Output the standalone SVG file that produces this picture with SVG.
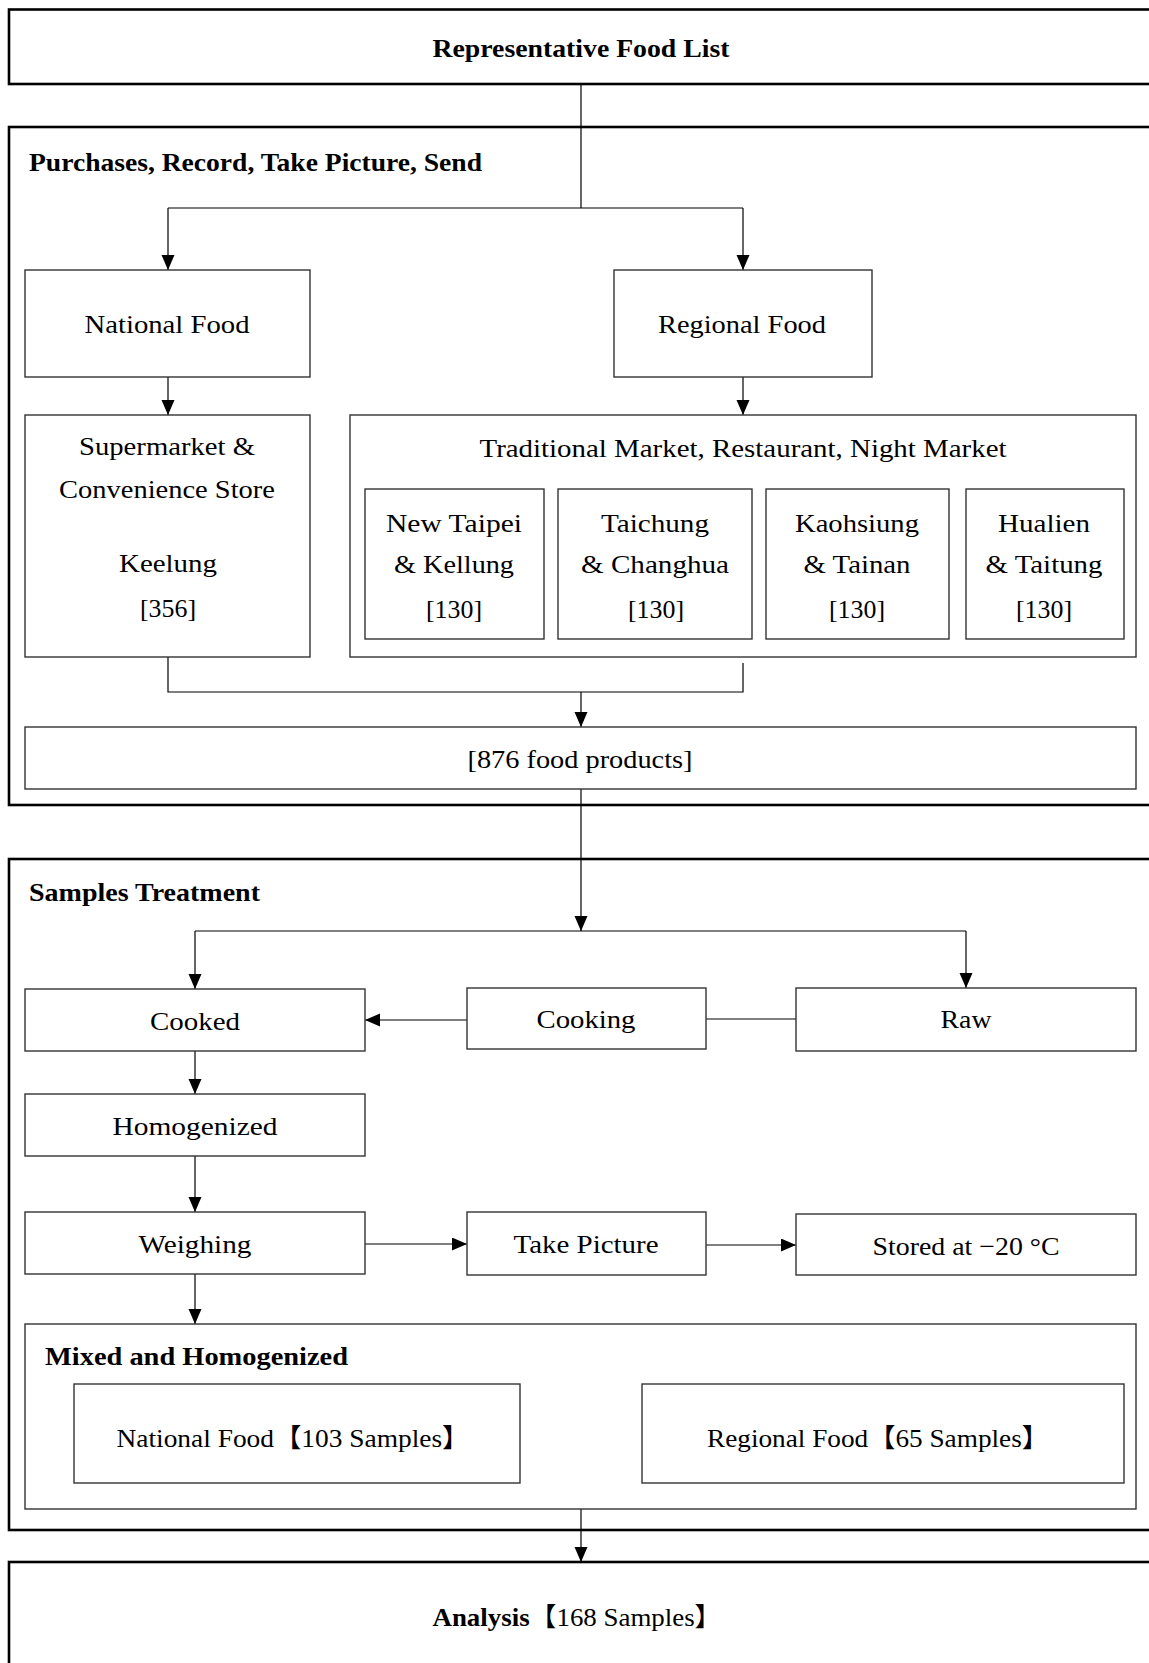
<svg xmlns="http://www.w3.org/2000/svg" width="1149" height="1663" viewBox="0 0 1149 1663">
<style>
.sec{fill:none;stroke:#000;stroke-width:2.6}
.box{fill:#fff;stroke:#333;stroke-width:1.4}
.con{fill:none;stroke:#000;stroke-width:1.2}
text{font-family:"Liberation Serif","Noto Sans CJK SC",serif;font-size:26px;fill:#000}
.c{text-anchor:middle}
.b{font-weight:bold}
</style>
<defs>
<marker id="ah" markerUnits="userSpaceOnUse" markerWidth="16" markerHeight="14" refX="15" refY="6.5" orient="auto">
<path d="M0,0 L15,6.5 L0,13 z" fill="#000"/>
</marker>
</defs>

<g id="sections">
<rect class="sec" x="9" y="9.5" width="1160" height="74.5"/>
<rect class="sec" x="9" y="127" width="1160" height="678"/>
<rect class="sec" x="9" y="859" width="1160" height="671"/>
<rect class="sec" x="9" y="1562" width="1160" height="120"/>
</g>

<g id="connectors">
<path class="con" d="M581,84 V208"/>
<path class="con" d="M168,208 H743"/>
<path class="con" d="M168,208 V270" marker-end="url(#ah)"/>
<path class="con" d="M743,208 V270" marker-end="url(#ah)"/>
<path class="con" d="M168,377 V415" marker-end="url(#ah)"/>
<path class="con" d="M743,377 V415" marker-end="url(#ah)"/>
<path class="con" d="M168,657 V692 H743 V663"/>
<path class="con" d="M581,692 V727" marker-end="url(#ah)"/>
<path class="con" d="M581,789 V931" marker-end="url(#ah)"/>
<path class="con" d="M195,931 H966"/>
<path class="con" d="M195,931 V989" marker-end="url(#ah)"/>
<path class="con" d="M966,931 V988" marker-end="url(#ah)"/>
<path class="con" d="M467,1020 H365" marker-end="url(#ah)"/>
<path class="con" d="M706,1019 H796"/>
<path class="con" d="M195,1051 V1094" marker-end="url(#ah)"/>
<path class="con" d="M195,1156 V1212" marker-end="url(#ah)"/>
<path class="con" d="M365,1244 H467" marker-end="url(#ah)"/>
<path class="con" d="M706,1245 H796" marker-end="url(#ah)"/>
<path class="con" d="M195,1274 V1324" marker-end="url(#ah)"/>
<path class="con" d="M581,1509 V1562" marker-end="url(#ah)"/>
</g>

<g id="representative-food-list">
<text class="c b" x="581" y="57" textLength="297" lengthAdjust="spacingAndGlyphs">Representative Food List</text>
</g>

<g id="purchases-section">
<text class="b" x="29" y="171" textLength="453" lengthAdjust="spacingAndGlyphs">Purchases, Record, Take Picture, Send</text>
</g>

<g id="national-food">
<rect class="box" x="25" y="270" width="285" height="107"/>
<text class="c" x="167" y="333" textLength="165" lengthAdjust="spacingAndGlyphs">National Food</text>
</g>

<g id="regional-food">
<rect class="box" x="614" y="270" width="258" height="107"/>
<text class="c" x="742" y="333" textLength="168" lengthAdjust="spacingAndGlyphs">Regional Food</text>
</g>

<g id="supermarket">
<rect class="box" x="25" y="415" width="285" height="242"/>
<text class="c" x="167" y="455" textLength="176" lengthAdjust="spacingAndGlyphs">Supermarket &amp;</text>
<text class="c" x="167" y="498" textLength="216" lengthAdjust="spacingAndGlyphs">Convenience Store</text>
<text class="c" x="168" y="572" textLength="98" lengthAdjust="spacingAndGlyphs">Keelung</text>
<text class="c" x="168" y="617" textLength="56" lengthAdjust="spacingAndGlyphs">[356]</text>
</g>

<g id="traditional-market">
<rect class="box" x="350" y="415" width="786" height="242"/>
<text class="c" x="743" y="457" textLength="527" lengthAdjust="spacingAndGlyphs">Traditional Market, Restaurant, Night Market</text>
</g>

<g id="new-taipei">
<rect class="box" x="365" y="489" width="179" height="150"/>
<text class="c" x="454" y="532" textLength="136" lengthAdjust="spacingAndGlyphs">New Taipei</text>
<text class="c" x="454" y="573" textLength="120" lengthAdjust="spacingAndGlyphs">&amp; Kellung</text>
<text class="c" x="454" y="618" textLength="56" lengthAdjust="spacingAndGlyphs">[130]</text>
</g>

<g id="taichung">
<rect class="box" x="558" y="489" width="194" height="150"/>
<text class="c" x="655" y="532" textLength="108" lengthAdjust="spacingAndGlyphs">Taichung</text>
<text class="c" x="655" y="573" textLength="148" lengthAdjust="spacingAndGlyphs">&amp; Changhua</text>
<text class="c" x="656" y="618" textLength="56" lengthAdjust="spacingAndGlyphs">[130]</text>
</g>

<g id="kaohsiung">
<rect class="box" x="766" y="489" width="183" height="150"/>
<text class="c" x="857" y="532" textLength="124" lengthAdjust="spacingAndGlyphs">Kaohsiung</text>
<text class="c" x="857" y="573" textLength="107" lengthAdjust="spacingAndGlyphs">&amp; Tainan</text>
<text class="c" x="857" y="618" textLength="56" lengthAdjust="spacingAndGlyphs">[130]</text>
</g>

<g id="hualien">
<rect class="box" x="966" y="489" width="158" height="150"/>
<text class="c" x="1044" y="532" textLength="92" lengthAdjust="spacingAndGlyphs">Hualien</text>
<text class="c" x="1044" y="573" textLength="117" lengthAdjust="spacingAndGlyphs">&amp; Taitung</text>
<text class="c" x="1044" y="618" textLength="56" lengthAdjust="spacingAndGlyphs">[130]</text>
</g>

<g id="food-products">
<rect class="box" x="25" y="727" width="1111" height="62"/>
<text class="c" x="580" y="768" textLength="225" lengthAdjust="spacingAndGlyphs">[876 food products]</text>
</g>

<g id="samples-treatment">
<text class="b" x="29" y="901" textLength="231" lengthAdjust="spacingAndGlyphs">Samples Treatment</text>
</g>

<g id="cooked">
<rect class="box" x="25" y="989" width="340" height="62"/>
<text class="c" x="195" y="1030" textLength="90" lengthAdjust="spacingAndGlyphs">Cooked</text>
</g>

<g id="cooking">
<rect class="box" x="467" y="988" width="239" height="61"/>
<text class="c" x="586" y="1028" textLength="99" lengthAdjust="spacingAndGlyphs">Cooking</text>
</g>

<g id="raw">
<rect class="box" x="796" y="988" width="340" height="63"/>
<text class="c" x="966" y="1028" textLength="51" lengthAdjust="spacingAndGlyphs">Raw</text>
</g>

<g id="homogenized">
<rect class="box" x="25" y="1094" width="340" height="62"/>
<text class="c" x="195" y="1135" textLength="165" lengthAdjust="spacingAndGlyphs">Homogenized</text>
</g>

<g id="weighing">
<rect class="box" x="25" y="1212" width="340" height="62"/>
<text class="c" x="195" y="1253" textLength="113" lengthAdjust="spacingAndGlyphs">Weighing</text>
</g>

<g id="take-picture">
<rect class="box" x="467" y="1212" width="239" height="63"/>
<text class="c" x="586" y="1253" textLength="145" lengthAdjust="spacingAndGlyphs">Take Picture</text>
</g>

<g id="stored">
<rect class="box" x="796" y="1214" width="340" height="61"/>
<text class="c" x="966" y="1255" textLength="187" lengthAdjust="spacingAndGlyphs">Stored at −20 °C</text>
</g>

<g id="mixed-homogenized">
<rect class="box" x="25" y="1324" width="1111" height="185"/>
<text class="b" x="45" y="1365" textLength="303" lengthAdjust="spacingAndGlyphs">Mixed and Homogenized</text>
</g>

<g id="national-samples">
<rect class="box" x="74" y="1384" width="446" height="99"/>
<text class="c" x="293" y="1447" textLength="353" lengthAdjust="spacingAndGlyphs">National Food【103 Samples】</text>
</g>

<g id="regional-samples">
<rect class="box" x="642" y="1384" width="482" height="99"/>
<text class="c" x="878" y="1447" textLength="342" lengthAdjust="spacingAndGlyphs">Regional Food【65 Samples】</text>
</g>

<g id="analysis">
<text class="c" x="577" y="1626" textLength="289" lengthAdjust="spacingAndGlyphs"><tspan class="b">Analysis</tspan>【168 Samples】</text>
</g>
</svg>
